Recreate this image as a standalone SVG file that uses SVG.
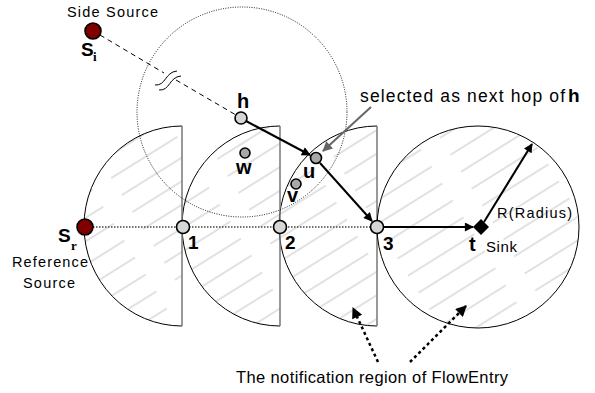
<svg xmlns="http://www.w3.org/2000/svg" width="595" height="393" viewBox="0 0 595 393">
<style>
text{font-family:"Liberation Sans",Arial,sans-serif;fill:#000}
.b{font-weight:bold}
.sub{font-family:"Liberation Serif","Times New Roman",serif;font-weight:bold}
.arc{fill:none;stroke:#000;stroke-width:1}
.vert{stroke:#777;stroke-width:1.5}
.node{fill:#d6d6d6;stroke:#000;stroke-width:1.6}
.node2{fill:#a8a8a8;stroke:#000;stroke-width:1.6}
.src{fill:#800000;stroke:#000;stroke-width:1.6}
.arr{stroke:#000;stroke-width:2;fill:none}
</style>
<defs>
<pattern id="hatch" patternUnits="userSpaceOnUse" width="100" height="20" patternTransform="rotate(-32)">
<line x1="0" y1="10" x2="78" y2="10" stroke="#c4c4c4" stroke-width="1"/>
</pattern>
<marker id="ah" viewBox="0 0 10 10" refX="9" refY="5" markerWidth="11" markerHeight="9" orient="auto" markerUnits="userSpaceOnUse"><path d="M0,0 L10,5 L0,10 z" fill="#000"/></marker>
<marker id="ahg" viewBox="0 0 10 10" refX="9" refY="5" markerWidth="12" markerHeight="10" orient="auto" markerUnits="userSpaceOnUse"><path d="M0,0 L10,5 L0,10 z" fill="#666"/></marker>
<marker id="ahb" viewBox="0 0 10 10" refX="9" refY="5" markerWidth="13" markerHeight="11" orient="auto" markerUnits="userSpaceOnUse"><path d="M0,0 L10,5 L0,10 z" fill="#000"/></marker>
</defs>
<rect width="595" height="393" fill="#fff"/>
<g id="regions">
<path d="M182,126 A98,100 0 0 0 182,326 Z" fill="url(#hatch)"/>
<path d="M280,126 A98,100 0 0 0 280,326 Z" fill="url(#hatch)"/>
<path d="M377,126 A98,100 0 0 0 377,326 Z" fill="url(#hatch)"/>
<circle cx="478" cy="227" r="101" fill="url(#hatch)"/>
<path class="arc" d="M182,126 A98,100 0 0 0 182,326"/>
<path class="arc" d="M280,126 A98,100 0 0 0 280,326"/>
<path class="arc" d="M377,126 A98,100 0 0 0 377,326"/>
<line class="vert" x1="182" y1="126" x2="182" y2="326"/>
<line class="vert" x1="280" y1="126" x2="280" y2="326"/>
<line class="vert" x1="377" y1="126" x2="377" y2="326"/>
<circle class="arc" cx="478" cy="227" r="101"/>
<circle cx="242" cy="112" r="105" fill="none" stroke="#000" stroke-width="0.9" stroke-dasharray="1,1.4"/>
</g>
<g id="connectors">
<line x1="93" y1="227" x2="371" y2="227" stroke="#444" stroke-width="1.3" stroke-dasharray="1.5,1.5"/>
<line x1="100" y1="35" x2="164" y2="73" stroke="#000" stroke-width="1" stroke-dasharray="5,4"/>
<line x1="176" y1="80" x2="236" y2="115" stroke="#000" stroke-width="1" stroke-dasharray="5,4"/>
<path d="M155,85 C166,86 165,72 177,71" fill="none" stroke="#000" stroke-width="1"/>
<path d="M159,90 C170,91 169,77 181,76" fill="none" stroke="#000" stroke-width="1"/>
<line class="arr" x1="246" y1="121" x2="310" y2="155" marker-end="url(#ah)"/>
<line class="arr" x1="320" y1="163" x2="372" y2="221" marker-end="url(#ah)"/>
<line class="arr" x1="383" y1="227" x2="473" y2="227" marker-end="url(#ah)"/>
<line class="arr" x1="484" y1="222" x2="532" y2="144" marker-end="url(#ah)"/>
<line x1="371" y1="107" x2="323" y2="151" stroke="#666" stroke-width="2" marker-end="url(#ahg)"/>
<line x1="378" y1="362" x2="353" y2="308" stroke="#000" stroke-width="2.5" stroke-dasharray="3,3" marker-end="url(#ahb)"/>
<line x1="410" y1="362" x2="466" y2="306" stroke="#000" stroke-width="2.5" stroke-dasharray="3,3" marker-end="url(#ahb)"/>
</g>
<g id="Si">
<circle class="src" cx="93" cy="31" r="8"/>
<text x="67" y="17" font-size="14.5" textLength="91" lengthAdjust="spacing">Side Source</text>
<text class="b" x="81" y="56" font-size="19">S</text>
<text class="sub" x="93" y="61" font-size="13">i</text>
</g>
<g id="Sr">
<circle class="src" cx="85" cy="227" r="8"/>
<text class="b" x="58" y="242" font-size="19">S</text>
<text class="sub" x="71" y="250" font-size="13">r</text>
<text x="12" y="267" font-size="14.5" textLength="76" lengthAdjust="spacing">Reference</text>
<text x="23" y="288" font-size="14.5" textLength="52" lengthAdjust="spacing">Source</text>
</g>
<g id="n1"><circle class="node" cx="183" cy="227" r="6.5"/><text class="b" x="188" y="249" font-size="19">1</text></g>
<g id="n2"><circle class="node" cx="280" cy="227" r="6.5"/><text class="b" x="285" y="249" font-size="19">2</text></g>
<g id="n3"><circle class="node" cx="377" cy="227" r="6.5"/><text class="b" x="383" y="250" font-size="19">3</text></g>
<g id="h"><circle class="node" cx="241" cy="118" r="6"/><text class="b" x="237" y="108" font-size="20">h</text></g>
<g id="w"><circle class="node2" cx="245" cy="153" r="5"/><text class="b" x="236" y="174" font-size="20">w</text></g>
<g id="u"><circle class="node2" cx="316" cy="158" r="5.5"/><text class="b" x="303" y="178" font-size="20">u</text></g>
<g id="v"><circle class="node2" cx="296" cy="184" r="5"/><text class="b" x="287" y="202" font-size="20">v</text></g>
<g id="t">
<path d="M481,219 L489,227 L481,235 L473,227 Z" fill="#000"/>
<text class="b" x="469" y="251" font-size="20">t</text>
<text x="486" y="252" font-size="15" textLength="31" lengthAdjust="spacing">Sink</text>
<text x="497" y="218" font-size="14.5" textLength="75" lengthAdjust="spacing">R(Radius)</text>
</g>
<g id="labels">
<text x="360" y="102" font-size="17.5" textLength="205" lengthAdjust="spacing">selected as next hop of</text>
<text class="b" x="568" y="102" font-size="19">h</text>
<text x="236" y="383" font-size="16.5" textLength="272" lengthAdjust="spacing">The notification region of FlowEntry</text>
</g>
</svg>
